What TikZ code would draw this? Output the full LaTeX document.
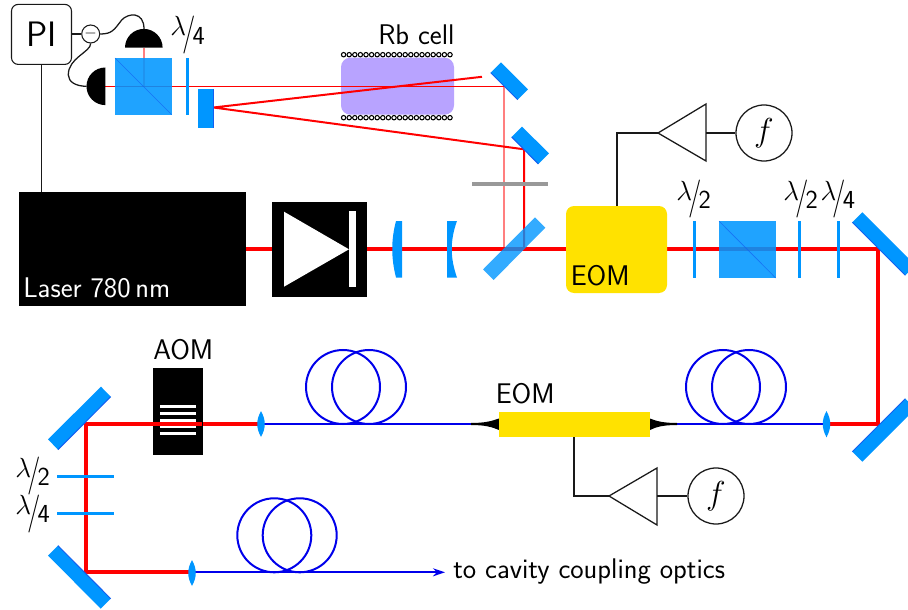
\documentclass[tikz,border=0pt]{standalone}
\usetikzlibrary{arrows.meta,calc}
\definecolor{optblue}{RGB}{0,150,255}
\definecolor{edgeblue}{RGB}{20,95,240}
\definecolor{eomyellow}{RGB}{255,226,0}
\definecolor{cellpurple}{RGB}{184,163,255}
\definecolor{fibreblue}{RGB}{0,0,235}
\newcommand{\lamfrac}[1]{{\fontsize{19.5}{22}\selectfont$\lambda$\kern-2.6pt\raisebox{-6.6pt}{\scalebox{.75}[1]{\fontsize{28.5}{30}\selectfont\sffamily/}}\kern-2.6pt\raisebox{-6.2pt}{\sffamily #1}}}
\tikzset{
  x=0.75pt,y=-0.75pt,
  txt/.style={font=\fontsize{21.3}{24}\selectfont\sffamily,inner sep=0pt,anchor=base west},
  wplabel/.style={inner sep=0pt,anchor=base west},
  beam/.style={draw=red,line width=3pt},
  thinbeam/.style={draw=red,line width=1pt},
  midbeam/.style={draw=red,line width=1.5pt},
  fibre/.style={draw=fibreblue,line width=1.5pt},
  wire/.style={draw=black!90,line width=.95pt},
  optic/.style={fill=optblue,draw=none},
  mirroredge/.style={draw=edgeblue,line width=.75pt},
  cube/.style={fill=optblue,fill opacity=.88,draw=none},
  plate/.style={fill=optblue,draw=none},
  amp/.style={draw=black!90,line width=.95pt,fill=white},
  freq/.style={circle,draw=black!90,line width=.95pt,minimum size=42pt,inner sep=0pt,font=\fontsize{24}{28}\selectfont},
  coil/.style={draw=black,line width=.8pt},
}
\begin{document}
\begin{tikzpicture}
\useasboundingbox (0,0) rectangle (908,610);
\clip (0,0) rectangle (908,610);

% --- named beam points
\coordinate (sm) at (213.5,107.5);
\coordinate (m1) at (504,86.3);
\coordinate (m1b) at (482,76.8);
\coordinate (m2) at (524,149.3);
\coordinate (bs) at (504,249.3);
\coordinate (bs2) at (524,249.3);
\coordinate (cornerA) at (878,249.3);
\coordinate (cornerB) at (878,424);
\coordinate (cornerC) at (86,424);
\coordinate (cornerD) at (86,572.3);
\coordinate (cubeC) at (144,86.3);

% --- Rb cell
\fill[cellpurple,rounded corners=7pt] (341,57.7) rectangle (454,114.7);
\foreach \i in {0,...,19}{
  \draw[coil] ({343.6+\i*5.6},54.7) circle[radius=2.2];
  \draw[coil] ({343.6+\i*5.6},117.7) circle[radius=2.2];
}

% --- beams, upper part
\draw[thinbeam] (105.3,86.3) -- (m1);
\draw[draw=red,line width=1pt,opacity=.5] (m1) -- (bs);
\draw[draw=red,line width=1pt,opacity=.5] (cubeC) -- (144,47.7);
\draw[midbeam] (m1b) -- (sm) -- (m2) -- (bs2);

% --- mirrors upper
\fill[optic] (501,62.3) -- (528,89.3) -- (517.7,99.7) -- (490.7,72.7) -- cycle;
\draw[mirroredge] (490.7,72.7) -- (517.7,99.7);
\fill[optic] (522,126.7) -- (549,153.3) -- (538.3,164) -- (511.7,137) -- cycle;
\draw[mirroredge] (511.7,137) -- (538.3,164);
\fill[gray!80] (472,182) rectangle (548,186);

% --- main beam
\draw[beam] (246,249.3) -- (272,249.3);
\draw[beam] (367,249.3) -- (566,249.3);
\draw[beam,line join=miter] (667,249.3) -- (cornerA) -- (cornerB) -- (826,424);
\draw[beam,line join=miter] (261,424) -- (cornerC) -- (cornerD) -- (192,572.3);

% --- beam splitter
\fill[optic,fill opacity=.8] (535,217.3) -- (545.3,227.7) -- (493.7,280) -- (483,269.5) -- cycle;

% --- PI and detectors
\node[draw=black!90,line width=.8pt,rounded corners=5pt,minimum size=45pt,inner sep=0pt,font=\fontsize{26.5}{28}\selectfont\sffamily] (PI) at (41.5,34.4) {PI};
\node[circle,draw=black!90,line width=.8pt,minimum size=13.5pt,inner sep=0pt,font=\fontsize{13}{14}\selectfont] (minus) at (90.7,34) {$-$};
\fill[black] (125,47.7) arc[start angle=180,end angle=360,radius=18.8] -- cycle;
\coordinate (detT) at (144,29);
\fill[black] (105.3,67.5) arc[start angle=270,end angle=90,radius=18.8] -- cycle;
\coordinate (detL) at (86.7,86.3);

% --- laser
\node[fill=black,minimum width=170.25pt,minimum height=85.5pt,inner sep=0pt] (laser) at (132.5,249) {};
\node[txt,text=white] (lasertext) at (23,297) {Laser 780\,nm};
\draw[wire] (PI.south) -- (PI.south |- laser.north);
\draw[wire] (PI.east |- minus) -- (minus);
\draw[wire] (minus.east) .. controls (112,34) and (114,30) .. (121.7,20) .. controls (128,13) and (144,11) .. (detT);
\draw[wire] (minus.south) .. controls (90.7,52) and (68,58) .. (68.3,75) .. controls (68.5,82) and (76,86.3) .. (detL);

% --- PBS at detectors
\fill[cube] (115,58) rectangle (171.7,114.7);
\draw[edgeblue,line width=.5pt,opacity=.7] (115,58) -- (171.7,114.7);
\fill[plate] (186,58) rectangle (189,114.7);
\fill[plate] (198,89) rectangle (212.5,128);
\fill[edgeblue] (212.5,89) rectangle (214,128);
\node[wplabel] (q1) at (170,36) {\lamfrac{4}};
\node[txt] (rb) at (378,45) {Rb cell};

% --- isolator
\node[fill=black,minimum size=71pt,inner sep=0pt] (iso) at (319.8,249.3) {};
\fill[white] (284,211.7) -- (349,249.3) -- (284,286.7) -- cycle;
\fill[white] (349,211) rectangle (356,287);

% --- lenses
\fill[plate] (402,221) -- (396,221) .. controls (391,240) and (391,258) .. (396,277.5) -- (402,277.5) -- cycle;
\fill[plate] (447,221) -- (457,221) .. controls (450,240) and (450,258) .. (457,277.5) -- (447,277.5) -- cycle;

% --- EOM 1
\node[fill=eomyellow,rounded corners=6pt,minimum width=75.75pt,minimum height=65.25pt,inner sep=0pt] (eomA) at (616.5,249.5) {};
\node[txt] (eomAt) at (570.5,285) {EOM};
\coordinate (ampAin) at (658,133);
\coordinate (eomAup) at (617,133);
\draw[wire] (617,206) -- (eomAup) -- (ampAin);
\draw[amp] (ampAin) -- (706,104) -- (706,161) -- cycle;
\node[freq] (fA) at (764,133) {$f$};
\draw[wire] (706,133) -- (fA);

% --- right optics
\fill[plate] (693,221) rectangle (696,278);
\fill[cube] (719,221) rectangle (775.7,278);
\draw[edgeblue,line width=.5pt,opacity=.7] (719,221) -- (775.7,278);
\fill[plate] (798,221) rectangle (801,278);
\fill[plate] (837,221) rectangle (840,278);
\node[wplabel] (h1) at (676,200) {\lamfrac{2}};
\node[wplabel] (h2) at (783,200) {\lamfrac{2}};
\node[wplabel] (q2) at (820.3,200) {\lamfrac{4}};
\fill[optic] (862.3,212.3) -- (852.3,222.3) -- (905.3,275.3) -- (915.3,265.3) -- cycle;
\draw[mirroredge] (852.3,222.3) -- (905.3,275.3);
\fill[optic] (852.3,451.7) -- (862.3,461.7) -- (915.3,408.7) -- (905.3,398.7) -- cycle;
\draw[mirroredge] (852.3,451.7) -- (905.3,398.7);

% --- fibres middle
\draw[fibre] (261,424) -- (471,424);
\draw[fibre] (677,424) -- (826,424);
\draw[fibre] (343,387) circle[radius=37];
\draw[fibre] (369,387) circle[radius=37];
\draw[fibre] (723,387) circle[radius=37];
\draw[fibre] (749,387) circle[radius=37];
\fill[black] (471,423) .. controls (485,423) and (492,421) .. (499,418.5) -- (499,430) .. controls (492,427) and (485,425) .. (471,425) -- cycle;
\fill[black] (677,423) .. controls (663,423) and (656,421) .. (650,418.5) -- (650,430) .. controls (656,427) and (663,425) .. (677,425) -- cycle;
\node[fill=eomyellow,minimum width=113.25pt,minimum height=18.75pt,inner sep=0pt] (eomB) at (574.5,424.5) {};
\node[txt] (eomBt) at (495.5,403) {EOM};
\coordinate (ampBin) at (609,496);
\coordinate (eomBdn) at (574,496);
\draw[wire] (574,437) -- (eomBdn) -- (ampBin);
\draw[amp] (ampBin) -- (657,468) -- (657,525) -- cycle;
\node[freq] (fB) at (716,496) {$f$};
\draw[wire] (657,496) -- (fB);

% --- AOM
\node[fill=black,minimum width=37pt,minimum height=65.25pt,inner sep=0pt] (aom) at (178,411.5) {};
\foreach \y in {406.3,413.3,420,426.7,433.3}{\fill[white] (160,{\y-1.5}) rectangle (196,{\y+1.5});}
\draw[beam] (202,424) -- (153,424);
\node[txt] (aomt) at (153,359.5) {AOM};

% --- small lenses
\fill[plate] (826.5,411) .. controls (831.5,420) and (831.5,428) .. (826.5,437.3) .. controls (821.5,428) and (821.5,420) .. (826.5,411) -- cycle;
\fill[plate] (261,411) .. controls (266,420) and (266,428) .. (261,437) .. controls (256,428) and (256,420) .. (261,411) -- cycle;

% --- left mirrors and plates
\fill[optic] (101,386.7) -- (110.7,396.7) -- (58,449.7) -- (48,439.3) -- cycle;
\draw[mirroredge] (110.7,396.7) -- (58,449.7);
\fill[optic] (58,545.7) -- (48,555.5) -- (100.7,608.7) -- (110.7,598.7) -- cycle;
\draw[mirroredge] (58,545.7) -- (110.7,598.7);
\fill[plate] (57,474.5) rectangle (114,477.5);
\fill[plate] (57,512) rectangle (114,515);
\node[wplabel] (h3) at (15,477) {\lamfrac{2}};
\node[wplabel] (q3) at (15,514.3) {\lamfrac{4}};

% --- output fibre
\coordinate (outEnd) at (445,572.3);
\draw[fibre,-{Stealth[length=9pt,width=6pt]}] (192,572.3) -- (outEnd);
\draw[fibre] (274.3,535.3) circle[radius=37];
\draw[fibre] (299.7,535.3) circle[radius=37];
\fill[plate] (192,560) .. controls (197,569) and (197,577) .. (192,586) .. controls (187,577) and (187,569) .. (192,560) -- cycle;
\node[txt] (out) at (453,578) {to cavity coupling optics};
\end{tikzpicture}
\end{document}
